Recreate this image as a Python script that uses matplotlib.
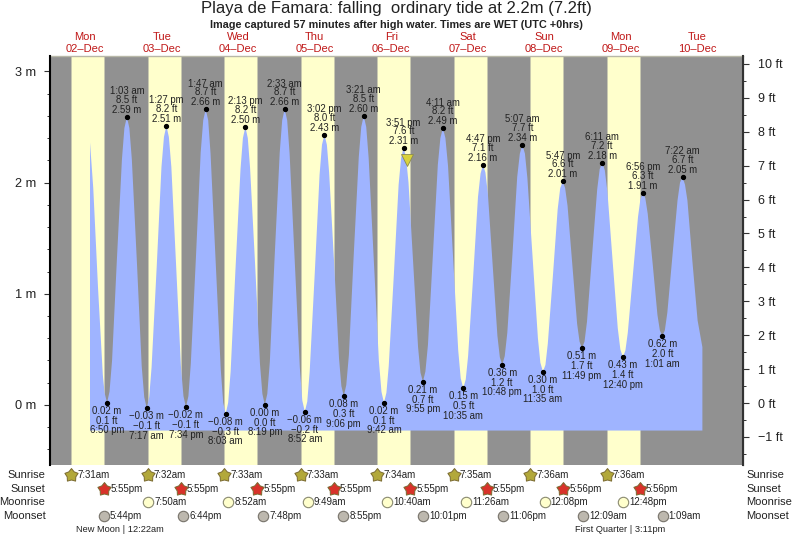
#tide chart for Playa de Famara
import numpy as np
from matplotlib import pyplot as plt
from matplotlib.path import Path
from matplotlib.transforms import blended_transform_factory

plt.rcParams['font.family'] = ['Liberation Sans', 'DejaVu Sans']

W, H = 793, 538

curve_hours = [13.48, 14.5, 16.0, 17.5, 18.05, 18.83,
               19.6, 20.4, 21.9, 23.5, 24.27, 25.05,
               25.83, 26.6, 28.2, 29.7, 30.5, 31.28,
               32.05, 32.8, 34.4, 35.9, 36.68, 37.45,
               38.22, 39.0, 40.5, 42.0, 42.8, 43.57,
               44.35, 45.1, 46.7, 48.2, 49.0, 49.78,
               50.56, 51.3, 52.9, 54.5, 55.27, 56.05,
               56.82, 57.6, 59.1, 60.7, 61.45, 62.22,
               62.98, 63.7, 65.3, 66.8, 67.56, 68.32,
               69.1, 69.9, 71.4, 73.0, 73.77, 74.55,
               75.34, 76.1, 77.7, 79.3, 80.08, 80.87,
               81.64, 82.4, 84.0, 85.5, 86.26, 87.03,
               87.79, 88.5, 90.1, 91.6, 92.34, 93.10,
               93.88, 94.7, 96.2, 97.8, 98.57, 99.35,
               100.14, 100.9, 102.5, 104.1, 104.91, 105.70,
               106.47, 107.2, 108.8, 110.3, 111.08, 111.85,
               112.61, 113.4, 114.9, 116.4, 117.16, 117.92,
               118.7, 119.5, 121.05, 122.6, 123.4, 124.18,
               124.98, 125.8, 127.4, 129.0, 129.78, 130.58,
               131.36, 132.1, 133.7, 135.2, 136.0, 136.78,
               137.53, 138.3, 139.8, 141.3, 142.05, 142.80,
               143.59, 144.4, 146.0, 147.5, 148.33, 149.12,
               149.93, 150.7, 152.35, 154.0, 154.77, 155.58,
               156.36, 157.1, 158.7, 160.2, 161.0, 161.78,
               162.54, 163.3, 164.8, 166.3, 167.06, 167.82,
               168.62, 169.4, 171.0, 172.6, 173.38, 174.18,
               174.99, 175.8, 177.4, 179.05, 179.86, 180.67,
               181.45, 182.2, 183.8, 185.4, 186.15, 186.93,
               187.69, 188.45, 190.0, 191.5, 192.26, 193.02,
               193.81, 194.6, 196.2, 197.8, 198.58, 199.37,
               200.15, 200.9, 202.5, 204.1, 205.6]
curve_m = [2.36, 1.95, 1.05, 0.27, 0.11, 0.02,
           0.12, 0.40, 1.30, 2.21, 2.49, 2.59,
           2.49, 2.21, 1.28, 0.35, 0.07, -0.03,
           0.07, 0.34, 1.24, 2.14, 2.41, 2.51,
           2.41, 2.14, 1.25, 0.35, 0.08, -0.02,
           0.08, 0.37, 1.32, 2.27, 2.56, 2.66,
           2.56, 2.26, 1.29, 0.32, 0.02, -0.08,
           0.02, 0.30, 1.21, 2.12, 2.40, 2.50,
           2.40, 2.13, 1.25, 0.37, 0.10, 0.00,
           0.10, 0.39, 1.33, 2.27, 2.56, 2.66,
           2.56, 2.26, 1.30, 0.34, 0.04, -0.06,
           0.03, 0.30, 1.19, 2.07, 2.34, 2.43,
           2.34, 2.09, 1.26, 0.42, 0.17, 0.08,
           0.18, 0.45, 1.34, 2.23, 2.50, 2.60,
           2.50, 2.22, 1.31, 0.40, 0.12, 0.02,
           0.11, 0.35, 1.17, 1.98, 2.22, 2.31,
           2.23, 2.00, 1.26, 0.52, 0.29, 0.21,
           0.30, 0.54, 1.35, 2.16, 2.40, 2.49,
           2.40, 2.15, 1.32, 0.49, 0.24, 0.15,
           0.23, 0.44, 1.16, 1.87, 2.08, 2.16,
           2.09, 1.90, 1.26, 0.62, 0.43, 0.36,
           0.44, 0.65, 1.35, 2.05, 2.26, 2.34,
           2.26, 2.04, 1.32, 0.60, 0.38, 0.30,
           0.36, 0.55, 1.16, 1.76, 1.95, 2.01,
           1.95, 1.79, 1.26, 0.73, 0.57, 0.51,
           0.57, 0.75, 1.35, 1.94, 2.12, 2.18,
           2.11, 1.92, 1.31, 0.69, 0.50, 0.43,
           0.49, 0.65, 1.17, 1.69, 1.85, 1.91,
           1.86, 1.72, 1.27, 0.81, 0.67, 0.62,
           0.67, 0.83, 1.34, 1.84, 2.00, 2.05,
           1.98, 1.84, 1.28, 0.76, 0.52]
curve_floor = -0.23

#labelled highs and lows
high_hours = [25.05, 37.45, 49.78, 62.22, 74.55, 87.03, 99.35, 111.85, 124.18, 136.78, 149.12, 161.78, 174.18, 186.93, 199.37]
high_m = [2.59, 2.51, 2.66, 2.50, 2.66, 2.43, 2.60, 2.31, 2.49, 2.16, 2.34, 2.01, 2.18, 1.91, 2.05]
high_ft = ['8.5', '8.2', '8.7', '8.2', '8.7', '8.0', '8.5', '7.6', '8.2', '7.1', '7.7', '6.6', '7.2', '6.3', '6.7']
high_times = ['1:03 am', '1:27 pm', '1:47 am', '2:13 pm', '2:33 am', '3:02 pm', '3:21 am', '3:51 pm',
              '4:11 am', '4:47 pm', '5:07 am', '5:47 pm', '6:11 am', '6:56 pm', '7:22 am']
low_hours = [18.83, 31.28, 43.57, 56.05, 68.32, 80.87, 93.10, 105.70, 117.92, 130.58, 142.80, 155.58, 167.82, 180.67, 193.02]
low_m = [0.02, -0.03, -0.02, -0.08, 0.00, -0.06, 0.08, 0.02, 0.21, 0.15, 0.36, 0.30, 0.51, 0.43, 0.62]
low_m_txt = ['0.02', '\u22120.03', '\u22120.02', '\u22120.08', '0.00', '\u22120.06', '0.08', '0.02',
             '0.21', '0.15', '0.36', '0.30', '0.51', '0.43', '0.62']
low_ft = ['0.1', '\u22120.1', '\u22120.1', '\u22120.3', '0.0', '\u22120.2', '0.3', '0.1',
          '0.7', '0.5', '1.2', '1.0', '1.7', '1.4', '2.0']
low_times = ['6:50 pm', '7:17 am', '7:34 pm', '8:03 am', '8:19 pm', '8:52 am', '9:06 pm', '9:42 am',
             '9:55 pm', '10:35 am', '10:48 pm', '11:35 am', '11:49 pm', '12:40 pm', '1:01 am']

day_names = ['Mon', 'Tue', 'Wed', 'Thu', 'Fri', 'Sat', 'Sun', 'Mon', 'Tue']
day_dates = ['02\u2013Dec', '03\u2013Dec', '04\u2013Dec', '05\u2013Dec', '06\u2013Dec', '07\u2013Dec', '08\u2013Dec', '09\u2013Dec', '10\u2013Dec']
day_noons = [12, 36, 60, 84, 108, 132, 156, 180, 204]

sunrise_hours = [7.52, 31.53, 55.55, 79.55, 103.57, 127.58, 151.6, 175.6]
sunrise_txt = ['7:31am', '7:32am', '7:33am', '7:33am', '7:34am', '7:35am', '7:36am', '7:36am']
sunset_hours = [17.92, 41.92, 65.92, 89.92, 113.92, 137.92, 161.93, 185.93]
sunset_txt = ['5:55pm', '5:55pm', '5:55pm', '5:55pm', '5:55pm', '5:55pm', '5:56pm', '5:56pm']
moonrise_hours = [31.83, 56.87, 81.82, 106.67, 131.43, 156.13, 180.8]
moonrise_txt = ['7:50am', '8:52am', '9:49am', '10:40am', '11:26am', '12:08pm', '12:48pm']
moonset_hours = [17.73, 42.73, 67.8, 92.92, 118.02, 143.1, 168.15, 193.15]
moonset_txt = ['5:44pm', '6:44pm', '7:48pm', '8:55pm', '10:01pm', '11:06pm', '12:09am', '1:09am']

phase_hours = [22.9, 179.7]
phase_txt = ['New Moon | 12:22am', 'First Quarter | 3:11pm']

now_hour = 112.8
now_m = 2.2

m_ticks = [0, 1, 2, 3]
ft_ticks = [-1, 0, 1, 2, 3, 4, 5, 6, 7, 8, 9, 10]

TXT = '#222222'
NIGHT = '#919191'
DAY = '#FFFFCC'
WATER = '#9FB4FF'

fig = plt.figure(figsize=(W / 100, H / 100), dpi=100)
left, right, top, bottom = 49.5, 743, 56, 464.7
ax = fig.add_axes([left / W, 1 - bottom / H, (right - left) / W, (bottom - top) / H])
x_per_hour = 3.1875
x_zero = 47.04
ax.set_xlim((left - x_zero) / x_per_hour, (right - x_zero) / x_per_hour)
ax.set_ylim(-0.537, 3.138)

#day and night bands
ax.set_facecolor(NIGHT)
for rise, sett in zip(sunrise_hours, sunset_hours):
    ax.axvspan(rise, sett, facecolor=DAY, edgecolor='#c8c8b0', linewidth=0.6, zorder=1)

ax.fill_between(curve_hours, curve_m, curve_floor, facecolor=WATER, edgecolor='none', zorder=2)

ax.plot(high_hours, high_m, 'o', color='black', markersize=2.8, zorder=4)
ax.plot(low_hours, low_m, 'o', color='black', markersize=2.8, zorder=4)
ax.plot([now_hour], [now_m], 'v', color='#D9D23C', markeredgecolor='#8a8a50', markeredgewidth=0.6, markersize=8, zorder=3)


def offset_text(x, y, s, dy_px):
    ax.annotate(s, (x, y), xytext=(0, dy_px * 0.72), textcoords='offset points', ha='center', va='center',
                fontsize=6.9, color=TXT, zorder=5, annotation_clip=False)


for i in range(len(high_hours)):
    offset_text(high_hours[i], high_m[i], '%.2f m' % high_m[i], 7)
    offset_text(high_hours[i], high_m[i], high_ft[i] + ' ft', 17)
    offset_text(high_hours[i], high_m[i], high_times[i], 25.5)

for i in range(len(low_hours)):
    offset_text(low_hours[i], low_m[i], low_m_txt[i] + ' m', -8)
    offset_text(low_hours[i], low_m[i], low_ft[i] + ' ft', -18)
    offset_text(low_hours[i], low_m[i], low_times[i], -27.5)

#axes and ticks
ax.set_xticks([])
ax.set_yticks(m_ticks)
ax.set_yticklabels(['%d m' % v for v in m_ticks], fontsize=9.2, color=TXT)
ax.set_yticks(np.arange(-0.4, 3.1, 0.2), minor=True)
ax.tick_params(axis='y', which='major', length=4.5, width=0.8, color='#333333', pad=5)
ax.tick_params(axis='y', which='minor', length=2.2, width=0.7, color='#333333')
for s in ['top', 'bottom']:
    ax.spines[s].set_visible(False)
ax.spines['left'].set_linewidth(1.5)
ax.spines['left'].set_zorder(6)
ax.plot([0, 1], [1, 1], transform=ax.transAxes, color='#b8b8a8', linewidth=1, clip_on=False, zorder=3)

ax2 = ax.twinx()
ax2.set_ylim((403 - bottom) / 33.9, (403 - top) / 33.9)
ax2.set_yticks(ft_ticks)
ax2.set_yticklabels([('\u2212%d ft' % -v) if v < 0 else ('%d ft' % v) for v in ft_ticks], fontsize=9, color=TXT)
ax2.set_yticks(np.arange(-1.5, 10.1, 0.5), minor=True)
ax2.tick_params(axis='y', which='major', length=4.5, width=0.8, color='#333333', pad=6)
ax2.tick_params(axis='y', which='minor', length=2.2, width=0.7, color='#333333')
for s in ['top', 'bottom', 'left']:
    ax2.spines[s].set_visible(False)
ax2.spines['right'].set_linewidth(1.5)
ax2.spines['right'].set_color('#333333')

fig.text(396 / W, 1 - 8 / H, 'Playa de Famara: falling  ordinary tide at 2.2m (7.2ft)', ha='center', va='center', fontsize=12, color=TXT)
fig.text(396 / W, 1 - 24.5 / H, 'Image captured 57 minutes after high water. Times are WET (UTC +0hrs)', ha='center', va='center',
         fontsize=7.85, fontweight='bold', color=TXT)

#rows below and above the plot: x is in hours, y in figure fractions
row = blended_transform_factory(ax.transData, fig.transFigure)
for x, name, date in zip(day_noons, day_names, day_dates):
    ax.text(x, 1 - 36.5 / H, name, transform=row, ha='center', va='center', fontsize=8, color='#c01818', clip_on=False)
    ax.text(x, 1 - 48.5 / H, date, transform=row, ha='center', va='center', fontsize=8, color='#c01818', clip_on=False)


def event_row(hours, labels, y_px, **marker):
    fy = 1 - y_px / H
    ax.plot(hours, [fy] * len(hours), linestyle='none', transform=row, clip_on=False, zorder=7, **marker)
    for x, s in zip(hours, labels):
        ax.text(x + 1.9, fy, s, transform=row, ha='left', va='center', fontsize=7, color=TXT, clip_on=False)


fat_star = Path.unit_regular_star(5, innerCircle=0.65)
event_row(sunrise_hours, sunrise_txt, 475, marker=fat_star, markersize=10, markerfacecolor='#B2A83A', markeredgecolor='#7a6a30', markeredgewidth=0.7)
event_row(sunset_hours, sunset_txt, 489, marker=fat_star, markersize=10, markerfacecolor='#D8322A', markeredgecolor='#7a6a30', markeredgewidth=0.7)
event_row(moonrise_hours, moonrise_txt, 502.3, marker='o', markersize=7.5, markerfacecolor='#FFFFCC', markeredgecolor='#8a8a70', markeredgewidth=0.8)
event_row(moonset_hours, moonset_txt, 516, marker='o', markersize=7.5, markerfacecolor='#BDB8AE', markeredgecolor='#77736a', markeredgewidth=0.8)

for x, s in zip(phase_hours, phase_txt):
    ax.text(x, 1 - 529.5 / H, s, transform=row, ha='center', va='center', fontsize=6.7, color=TXT, clip_on=False)

for name, y_px in zip(['Sunrise', 'Sunset', 'Moonrise', 'Moonset'], [475, 489, 502.3, 516]):
    fig.text(45.5 / W, 1 - y_px / H, name, ha='right', va='center', fontsize=8, color=TXT)
    fig.text(746.5 / W, 1 - y_px / H, name, ha='left', va='center', fontsize=8, color=TXT)

plt.savefig('out.png', dpi=100)
